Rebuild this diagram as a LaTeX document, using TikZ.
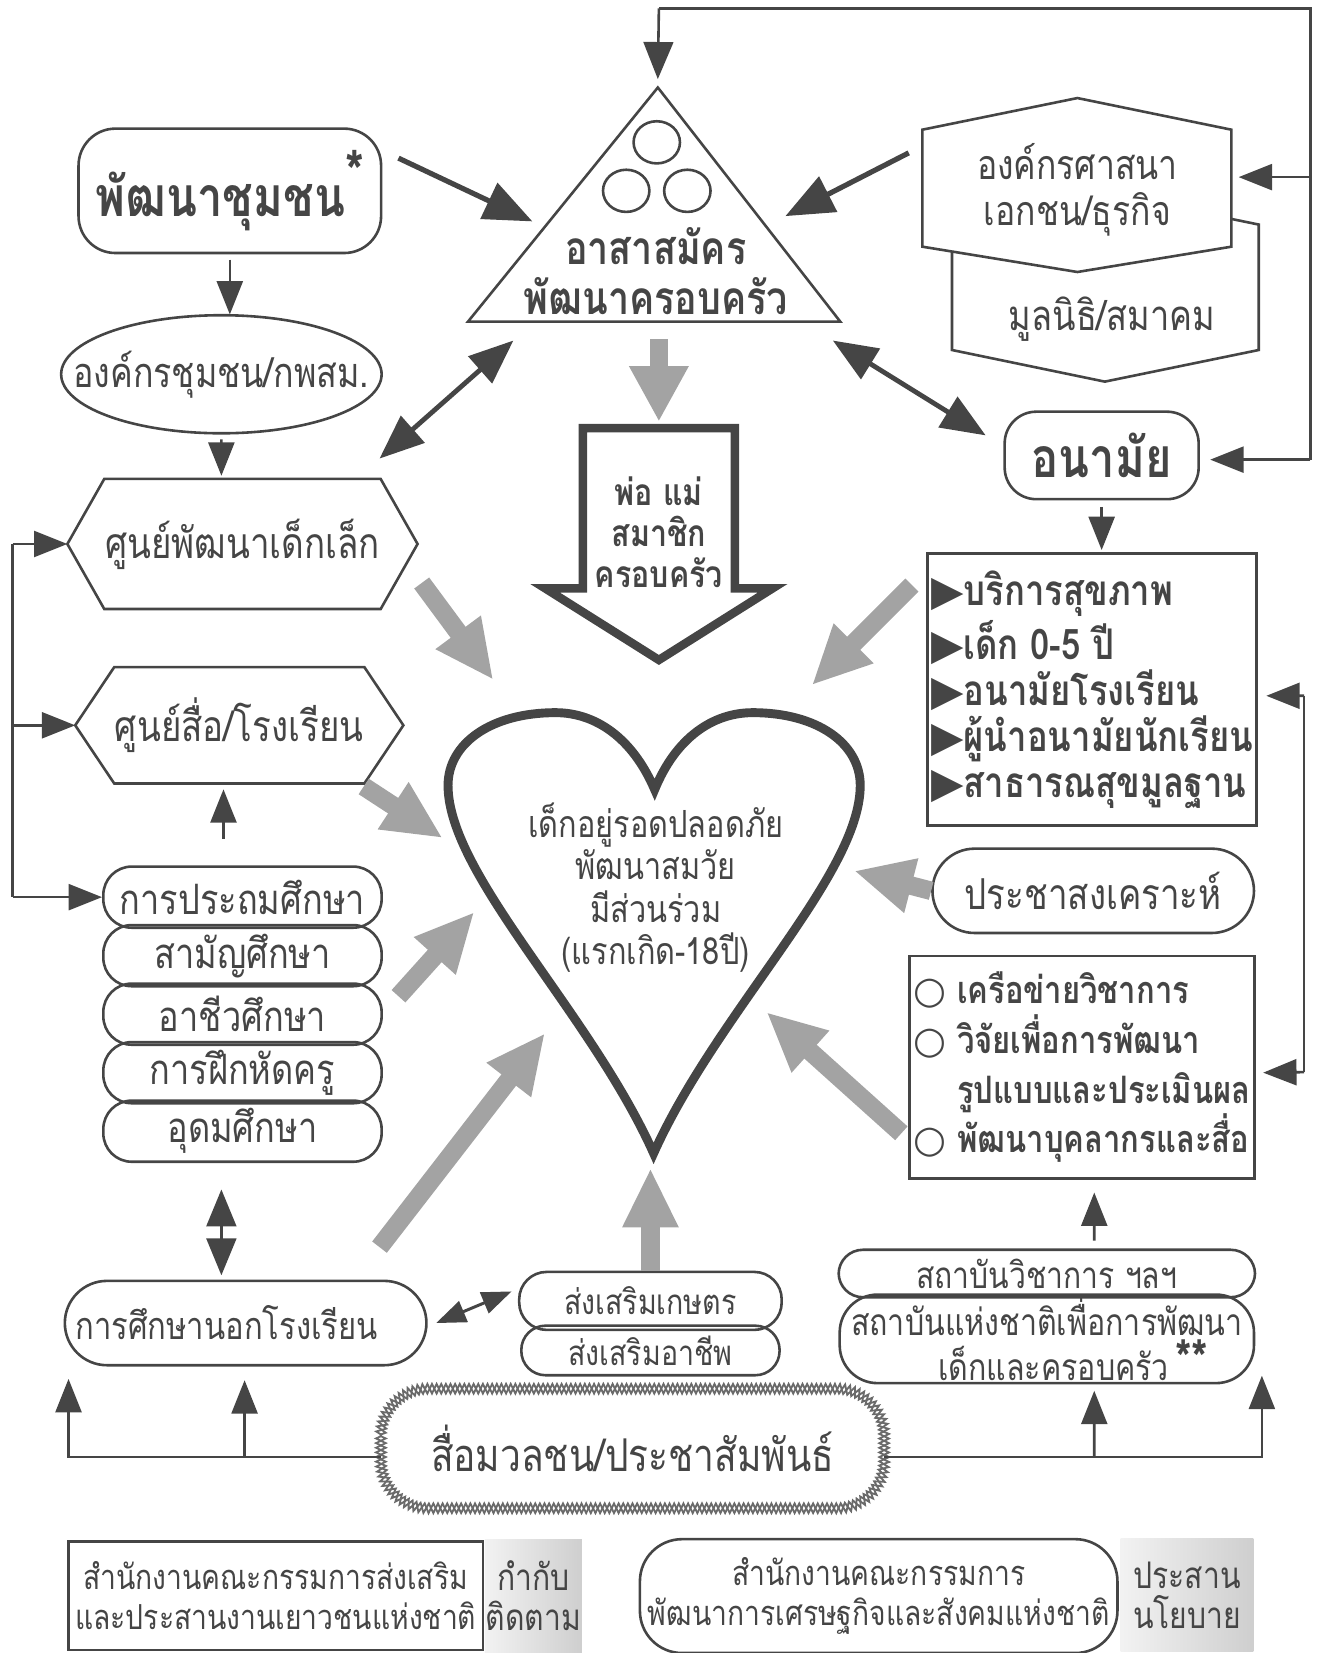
\documentclass[tikz,border=0pt]{standalone}
\usepackage{fontspec}
\setmainfont[Script=Thai, FakeStretch=0.82]{Loma}
\newfontfamily\symfont{DejaVu Sans}
\usetikzlibrary{arrows.meta,shapes.geometric,decorations.pathmorphing}

\definecolor{ink}{gray}{0.27}
\definecolor{shade}{gray}{0.64}

\begin{document}
\begin{tikzpicture}[x=0.1mm, y=-0.1mm,
    % Styles
    every node/.style={text=ink, inner sep=0pt, align=center},
    outline/.style={draw=ink, line width=0.7pt},
    roundbox/.style={outline, rounded corners=3mm},
    pill/.style={outline, rounded corners=2.7mm, minimum width=26.4mm, minimum height=5.8mm, font=\fontsize{11.3}{13}\selectfont},
    title-l/.style={font=\fontsize{14.9}{18}\selectfont\bfseries},
    title-m/.style={font=\fontsize{11.5}{14}\selectfont},
    title-s/.style={font=\fontsize{9.3}{10.8}\selectfont},
    list/.style={font=\fontsize{11.4}{12.4}\selectfont\bfseries, align=left},
    feed-arrow/.style={-{Triangle[length=9pt,width=7pt]}, draw=ink, line width=0.7pt},
    main-arrow/.style={-{Triangle[length=13pt,width=10.5pt]}, draw=ink, line width=1.4pt},
    link-arrow/.style={{Triangle[length=12pt,width=9.5pt]}-{Triangle[length=12pt,width=9.5pt]}, draw=ink, line width=1.3pt},
    grey-arrow/.style={-{Triangle[length=16pt,width=14pt]}, draw=shade, line width=5pt},
    chain/.style={draw=ink!80, line width=0.5pt, decorate, decoration={zigzag, segment length=2.5pt, amplitude=1.3pt}},
    tag/.style={left color=gray!10, right color=gray!38, minimum height=10.7mm, font=\fontsize{9.9}{10.8}\selectfont},
]
\useasboundingbox (0,0) rectangle (1251,1568);

% Left column
\node[roundbox, rounded corners=3.5mm, minimum width=28.7mm, minimum height=11.8mm, title-l] (comdev) at (218,181)
    {พัฒนาชุมชน\raisebox{0.8ex}{\fontsize{16}{16}\selectfont*}};
\node[minimum width=30.4mm, minimum height=11.2mm, font=\fontsize{11.2}{14}\selectfont] (comorg) at (210,355) {องค์กรชุมชน/กพสม.};
\draw[outline] (comorg.center) ellipse[x radius=15.2mm, y radius=5.6mm];

\node[minimum width=25.4mm, minimum height=12.2mm, title-m] (childctr) at (230,516) {ศูนย์พัฒนาเด็กเล็ก};
\draw[outline] (childctr.north west) -- (childctr.north east) -- ([xshift=3.5mm]childctr.east)
    -- (childctr.south east) -- (childctr.south west) -- ([xshift=-3.5mm]childctr.west) -- cycle;

\node[minimum width=22.8mm, minimum height=10.9mm, title-m] (mediactr) at (227,688) {ศูนย์สื่อ/โรงเรียน};
\draw[outline] (mediactr.north west) -- (mediactr.north east) -- ([xshift=3.7mm]mediactr.east)
    -- (mediactr.south east) -- (mediactr.south west) -- ([xshift=-3.7mm]mediactr.west) -- cycle;

% Education stack
\node[pill] (edu1) at (230,851) {การประถมศึกษา};
\node[pill] (edu2) at (230,906.5) {สามัญศึกษา};
\node[pill] (edu3) at (230,962) {อาชีวศึกษา};
\node[pill] (edu4) at (230,1017.5) {การฝึกหัดครู};
\node[pill] (edu5) at (230,1073) {อุดมศึกษา};

\node[outline, rounded corners=4mm, minimum width=34.3mm, minimum height=8mm, font=\fontsize{10.2}{12}\selectfont] (nonformal) at (233,1255)
    {การศึกษานอกโรงเรียน\hspace{3.6mm}};

% Centre bottom
\node[outline, rounded corners=2.6mm, minimum width=24.9mm, minimum height=5.5mm, font=\fontsize{9.4}{11}\selectfont] (agri) at (617,1234) {ส่งเสริมเกษตร};
\node[outline, rounded corners=2.3mm, minimum width=24.5mm, minimum height=4.7mm, font=\fontsize{9.4}{11}\selectfont] (career) at (617,1281) {ส่งเสริมอาชีพ};

\node[minimum width=47.6mm, minimum height=11.2mm, font=\fontsize{12.2}{14}\selectfont] (massmedia) at (600,1374) {สื่อมวลชน/ประชาสัมพันธ์};
\draw[chain] {[rounded corners=4.5mm] (massmedia.north west) rectangle (massmedia.south east)};
\draw[chain, decoration={mirror}] {[rounded corners=4.5mm] (massmedia.north west) rectangle (massmedia.south east)};

% Right column
\node[outline, rounded corners=2.3mm, minimum width=39.5mm, minimum height=4.5mm, font=\fontsize{9.9}{11}\selectfont] (acadinst) at (993,1208) {สถาบันวิชาการ ฯลฯ};
\node[outline, rounded corners=3.6mm, minimum width=39.3mm, minimum height=8.4mm, font=\fontsize{10}{10.6}\selectfont] (nicfd) at (993,1270)
    {สถาบันแห่งชาติเพื่อการพัฒนา\\\hspace*{5mm}เด็กและครอบครัว\,\raisebox{0.15ex}{\fontsize{14}{14}\selectfont\bfseries**}};

\node[outline, minimum width=32.7mm, minimum height=21.1mm, list, font=\fontsize{10.2}{13.4}\selectfont\bfseries] (research) at (1026.5,1012.5)
    {{\symfont○} เครือข่ายวิชาการ\\{\symfont○} วิจัยเพื่อการพัฒนา\\\phantom{{\symfont○} }รูปแบบและประเมินผล\\{\symfont○} พัฒนาบุคลากรและสื่อ};

\node[outline, rounded corners=4mm, minimum width=30.5mm, minimum height=8mm, font=\fontsize{11.5}{14}\selectfont] (welfare) at (1037,845) {ประชาสงเคราะห์};

\node[outline, minimum width=31.2mm, minimum height=25.8mm, list] (services) at (1036,654)
    {{\symfont▶}บริการสุขภาพ\\{\symfont▶}เด็ก 0-5 ปี\\{\symfont▶}อนามัยโรงเรียน\\{\symfont▶}ผู้นำอนามัยนักเรียน\\{\symfont▶}สาธารณสุขมูลฐาน};

\node[roundbox, minimum width=18.4mm, minimum height=8.3mm, title-l] (health) at (1045,432) {อนามัย};

% Religious / private organisations
\draw[outline, fill=white] (903,213) -- (1048,183) -- (1194,213) -- (1194,332) -- (1048,362) -- (903,332) -- cycle;
\draw[outline, fill=white] (875,123) -- (1022,93) -- (1168,123) -- (1168,234) -- (1022,258) -- (875,234) -- cycle;
\node[font=\fontsize{11.1}{12.5}\selectfont] (relig) at (1022,180) {องค์กรศาสนา\\เอกชน/ธุรกิจ};
\node[font=\fontsize{11.3}{13}\selectfont] (found) at (1055,303) {มูลนิธิ/สมาคม};

% Volunteer triangle
\draw[outline] (624,83) -- (797,305) -- (444,305) -- cycle;
\draw[outline] (623,135) ellipse[x radius=2.2mm, y radius=2mm];
\draw[outline] (594,181) ellipse[x radius=2.2mm, y radius=2mm];
\draw[outline] (652,181) ellipse[x radius=2.2mm, y radius=2mm];
\node[font=\fontsize{12.4}{13.4}\selectfont\bfseries] (volunteer) at (622,257) {อาสาสมัคร\\พัฒนาครอบครัว};

% Family block arrow
\draw[draw=ink, line width=2.3pt] (553,406) -- (697,406) -- (697,558) -- (733,558) -- (625,626) -- (517,558) -- (553,558) -- cycle;
\node[font=\fontsize{10}{11}\selectfont\bfseries] (family) at (625,505) {พ่อ แม่\\สมาชิก\\ครอบครัว};

% Heart
\draw[draw=ink, line width=2.4pt] (621,749) .. controls (641,700) and (676,676) .. (714,676)
    .. controls (775,676) and (816,705) .. (816,745) .. controls (816,830) and (680,960) .. (620,1094)
    .. controls (560,960) and (425,830) .. (425,745) .. controls (425,705) and (466,676) .. (527,676)
    .. controls (565,676) and (600,700) .. (621,749) -- cycle;
\node[font=\fontsize{10.1}{11.4}\selectfont] (child) at (622,842) {เด็กอยู่รอดปลอดภัย\\พัฒนาสมวัย\\มีส่วนร่วม\\(แรกเกิด-18ปี)};

% Bottom offices
\node[outline, minimum width=39.3mm, minimum height=10.3mm, title-s] (ncyc) at (261.5,1513.5)
    {สำนักงานคณะกรรมการส่งเสริม\\และประสานงานเยาวชนแห่งชาติ};
\node[tag, minimum width=9.2mm] (ncyctag) at (506,1514) {กำกับ\\ติดตาม};
\node[outline, rounded corners=4mm, minimum width=45.3mm, minimum height=10.8mm, title-s] (nesdb) at (833.5,1514)
    {สำนักงานคณะกรรมการ\\พัฒนาการเศรษฐกิจและสังคมแห่งชาติ};
\node[tag, minimum width=12.6mm] (nesdbtag) at (1126,1513) {ประสาน\\นโยบาย};

% Arrow ends
\coordinate (apex) at (624,75);
\coordinate (volL) at (505,210);
\coordinate (volR) at (745,205);
\coordinate (volBL) at (487,323);
\coordinate (volBR) at (790,323);
\coordinate (volB) at (625,322);
\coordinate (religR) at (1175,168);
\coordinate (healthR) at (1148,436);
\coordinate (hL1) at (468,645);
\coordinate (hL2) at (420,795);
\coordinate (hL3) at (450,865);
\coordinate (hL4) at (517,980);
\coordinate (hB) at (617,1108);
\coordinate (hR4) at (727,960);
\coordinate (hR3) at (810,826);
\coordinate (hR1) at (770,650);

% Dark connectors
\draw[outline] (625,8) -- (1243,8) -- (1243,436);
\draw[feed-arrow, -{Triangle[length=10pt,width=8pt]}] (625,8) -- (apex);
\draw[feed-arrow] (1243,168) -- (religR);
\draw[feed-arrow] (1243,436) -- (healthR);
\draw[main-arrow] (378,150) -- (volL);
\draw[main-arrow] (862,145) -- (volR);
\draw[feed-arrow] ([yshift=-0.5mm]comdev.south) -- (comdev.south |- comorg.north);
\draw[feed-arrow] ([yshift=-0.5mm]comorg.south) -- ([xshift=-2mm,yshift=0.3mm]childctr.north);
\draw[link-arrow] (volBL) -- (360,435);
\draw[link-arrow] (volBR) -- (935,413);
\draw[feed-arrow] ([yshift=-0.6mm]health.south) -- ([yshift=0.2mm]health.south |- services.north);
\draw[outline] (12,516) -- (12,851);
\draw[feed-arrow] (12,516) -- ([xshift=-3.5mm]childctr.west);
\draw[feed-arrow] (12,688) -- ([xshift=-3.7mm]mediactr.west);
\draw[feed-arrow] (12,851) -- (edu1.west);
\draw[feed-arrow] ([xshift=-1.8mm,yshift=2.5mm]edu1.north) -- ([xshift=-1.5mm,yshift=-0.55mm]mediactr.south);
\draw[link-arrow, {Triangle[length=10pt,width=8pt]}-{Triangle[length=10pt,width=8pt]}, line width=0.9pt]
    ([xshift=-2mm,yshift=-2.5mm]edu5.south) -- ([xshift=-2.3mm,yshift=0.4mm]nonformal.north);
\draw[link-arrow, {Triangle[length=8pt,width=6pt]}-{Triangle[length=8pt,width=6pt]}, line width=0.8pt]
    ([xshift=0.8mm]nonformal.east) -- ([xshift=-0.6mm,yshift=0.9mm]agri.west);
\draw[feed-arrow] (1237,660) -- ([xshift=0.8mm,yshift=-0.6mm]services.east);
\draw[outline] (1237,660) -- (1237,1017);
\draw[feed-arrow] (1237,1017) -- ([xshift=0.7mm,yshift=-0.5mm]research.east);
\draw[feed-arrow] ([xshift=4.5mm,yshift=0.75mm]acadinst.north) -- ([xshift=1.15mm,yshift=-1.2mm]research.south);
\draw[feed-arrow] ([yshift=-0.8mm]massmedia.west) -| (65,1308);
\draw[feed-arrow] (232,1382) -- ([xshift=-0.1mm,yshift=-1.3mm]nonformal.south);
\draw[feed-arrow] ([yshift=-0.8mm]massmedia.east) -| (1197,1305);
\draw[feed-arrow] (1038,1382) -- ([xshift=4.5mm,yshift=-0.6mm]nicfd.south);

% Grey arrows into the heart
\draw[grey-arrow, -{Triangle[length=15pt,width=15pt]}] (volB) -- (625,400);
\draw[grey-arrow] (400,553) -- (hL1);
\draw[grey-arrow] (345,746) -- (hL2);
\draw[grey-arrow] (378,945) -- (hL3);
\draw[grey-arrow] (360,1183) -- (hL4);
\draw[grey-arrow] (agri.north) -- (hB);
\draw[grey-arrow] (855,1075) -- (hR4);
\draw[grey-arrow] (welfare.west) -- (hR3);
\draw[grey-arrow] (865,555) -- (hR1);

\end{tikzpicture}
\end{document}
